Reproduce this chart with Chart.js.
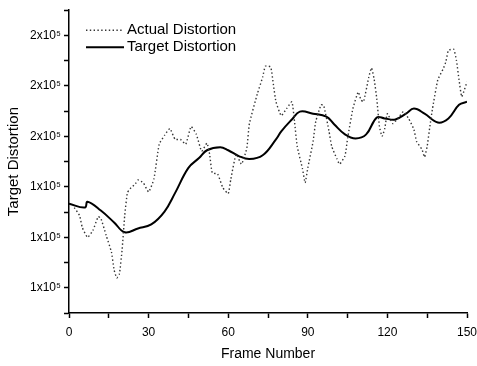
<!DOCTYPE html>
<html lang="en">
<head>
<meta charset="UTF-8">
<title>Target Distortion vs Frame Number</title>
<script src="https://cdn.jsdelivr.net/npm/chart.js"></script>
<style>
  html, body { margin: 0; padding: 0; background: #fff; }
  #wrap { width: 477px; height: 366px; }
</style>
</head>
<body>
<div id="wrap"><canvas id="distChart"></canvas></div>
<script>
// values in units of 1e5
const actualFrames = [2, 4, 5, 7, 9, 11, 12, 14, 16, 17, 18, 19, 20, 21, 22, 23, 25, 26, 28, 30,
  32, 34, 36, 38, 40, 42, 44, 46, 48, 50, 52, 53, 54, 56, 58, 60, 61, 63, 65, 67,
  68, 71, 73, 74, 76, 77, 78, 80, 82, 84, 85, 86, 88, 89, 90, 92, 93, 95, 96, 98,
  99, 101, 102, 104, 105, 107, 109, 110, 111, 113, 114, 115, 116, 117, 118, 119, 120, 122, 124, 126,
  128, 130, 131, 133, 134, 135, 136, 137, 139, 141, 142, 143, 145, 146, 147, 148, 149, 150];
const actualValues = [1.518, 1.486, 1.439, 1.400, 1.427, 1.482, 1.475, 1.408, 1.341, 1.271, 1.239, 1.255, 1.349, 1.486, 1.576, 1.592, 1.612, 1.627, 1.616, 1.580,
  1.631, 1.769, 1.804, 1.831, 1.788, 1.788, 1.769, 1.839, 1.808, 1.741, 1.773, 1.729, 1.655, 1.651, 1.596, 1.573, 1.631, 1.729, 1.690, 1.753,
  1.851, 1.969, 2.035, 2.078, 2.075, 2.008, 1.937, 1.882, 1.910, 1.937, 1.859, 1.761, 1.671, 1.616, 1.675, 1.780, 1.859, 1.925, 1.922, 1.820,
  1.761, 1.710, 1.690, 1.722, 1.792, 1.910, 1.976, 1.945, 1.937, 2.035, 2.071, 2.027, 1.949, 1.839, 1.800, 1.831, 1.890, 1.851, 1.871, 1.898,
  1.871, 1.827, 1.780, 1.749, 1.718, 1.761, 1.839, 1.910, 2.024, 2.067, 2.094, 2.141, 2.145, 2.102, 2.024, 1.957, 1.984, 2.016];

const targetFrames = [0, 6, 7, 12, 17, 21, 26, 31, 36, 40, 45, 49, 52, 57, 60, 64, 68, 73, 78, 80,
  84, 87, 92, 97, 100, 104, 108, 112, 116, 119, 123, 127, 130, 134, 139, 143, 147, 150];
const targetValues = [1.533, 1.518, 1.541, 1.506, 1.459, 1.420, 1.435, 1.451, 1.502, 1.576, 1.675, 1.714, 1.745, 1.757, 1.745, 1.722, 1.710, 1.725, 1.788, 1.820,
  1.867, 1.898, 1.890, 1.878, 1.847, 1.808, 1.792, 1.808, 1.875, 1.871, 1.867, 1.890, 1.910, 1.890, 1.855, 1.871, 1.925, 1.937];

const yTickValues = [1.2, 1.4, 1.6, 1.8, 2.0, 2.2];
const yTickLabels = ['1x10\u2075', '1x10\u2075', '1x10\u2075', '2x10\u2075', '2x10\u2075', '2x10\u2075'];
const xTickLabels = ['0', '30', '60', '90', '120', '150'];

const FONT = '"Liberation Sans", Arial, sans-serif';

// legend drawn inside the plot, top-left
const inlineLegend = {
  id: 'inlineLegend',
  afterDatasetsDraw(chart) {
    const { ctx, chartArea } = chart;
    chart.data.datasets.forEach((ds, i) => {
      const x = chartArea.left + 17;
      const y = chartArea.top + 20 + i * 17;
      ctx.save();
      ctx.strokeStyle = ds.borderColor;
      ctx.lineWidth = ds.borderWidth;
      ctx.setLineDash(ds.borderDash || []);
      ctx.beginPath();
      ctx.moveTo(x, y);
      ctx.lineTo(x + 38, y);
      ctx.stroke();
      ctx.setLineDash([]);
      ctx.fillStyle = '#000';
      ctx.font = '15px ' + FONT;
      ctx.textBaseline = 'middle';
      ctx.fillText(ds.label, x + 41, y);
      ctx.restore();
    });
  }
};

const ctx = document.getElementById('distChart').getContext('2d');
new Chart(ctx, {
  type: 'line',
  data: {
    datasets: [
      {
        label: 'Actual Distortion',
        data: actualFrames.map((f, i) => ({ x: f, y: actualValues[i] })),
        borderColor: '#333',
        borderWidth: 1.4,
        borderDash: [1.4, 2.4],
        pointRadius: 0,
        tension: 0.15,
        fill: false
      },
      {
        label: 'Target Distortion',
        data: targetFrames.map((f, i) => ({ x: f, y: targetValues[i] })),
        borderColor: '#000',
        borderWidth: 2,
        pointRadius: 0,
        tension: 0.4,
        fill: false
      }
    ]
  },
  options: {
    responsive: true,
    maintainAspectRatio: false,
    animation: false,
    layout: { padding: { top: 5, right: 0, left: 0, bottom: 0 } },
    plugins: {
      legend: { display: false },
      tooltip: { enabled: false }
    },
    scales: {
      x: {
        type: 'linear',
        min: 0,
        max: 150,
        afterFit: (scale) => { scale.height = 53; scale.paddingRight = 10; },
        ticks: {
          stepSize: 15,
          padding: 7,
          maxRotation: 0,
          color: '#000',
          font: { family: FONT, size: 12 },
          callback: (v) => (v % 30 === 0 ? xTickLabels[v / 30] : '')
        },
        grid: { drawOnChartArea: false, tickLength: 5, tickColor: '#000', tickWidth: 1.5 },
        border: { display: true, color: '#000', width: 1.5 },
        title: {
          display: true,
          text: 'Frame Number',
          color: '#000',
          font: { family: FONT, size: 14 },
          padding: { top: 2, bottom: 3 }
        }
      },
      y: {
        min: 1.1,
        max: 2.3,
        afterFit: (scale) => { scale.width = 69; },
        ticks: {
          stepSize: 0.1,
          padding: 3,
          color: '#000',
          font: { family: FONT, size: 12 },
          callback: (v) => {
            const idx = yTickValues.findIndex(t => Math.abs(t - v) < 1e-6);
            return idx >= 0 ? yTickLabels[idx] : '';
          }
        },
        grid: { drawOnChartArea: false, tickLength: 5, tickColor: '#000', tickWidth: 1.5 },
        border: { display: true, color: '#000', width: 1.5 },
        title: {
          display: true,
          text: 'Target Distortion',
          color: '#000',
          font: { family: FONT, size: 15 },
          padding: { top: 5, bottom: 0 }
        }
      }
    }
  },
  plugins: [inlineLegend]
});
</script>
</body>
</html>
